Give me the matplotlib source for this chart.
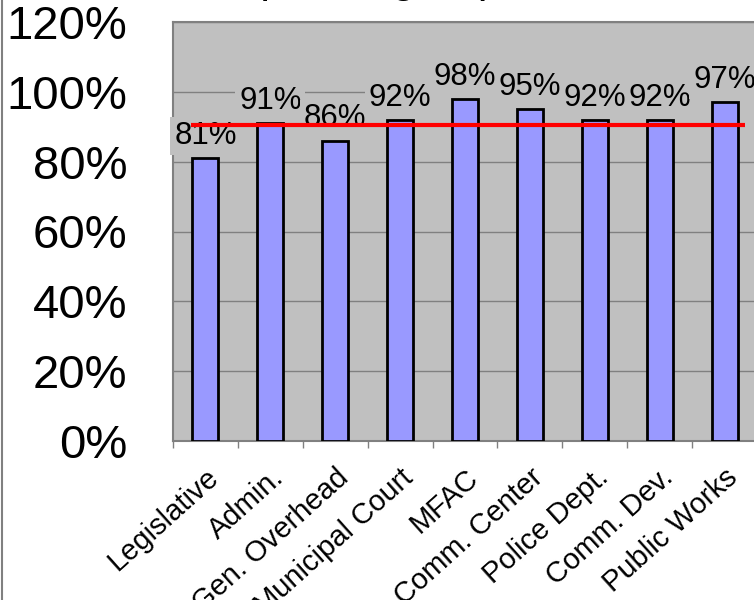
import matplotlib

matplotlib.use('Agg')

import matplotlib.pyplot as plt
import numpy as np
from matplotlib.lines import Line2D

plt.rcParams.update({
    'font.family': ['Liberation Sans', 'DejaVu Sans'],
    'figure.dpi': 100,
})

departments = ['Legislative', 'Admin.', 'Gen. Overhead', 'Municipal Court', 'MFAC',
               'Comm. Center', 'Police Dept.', 'Comm. Dev.', 'Public Works']
pct_spent = [81, 91, 86, 92, 98, 95, 92, 92, 97]
target_pct = 90.5
y_ticks = [0, 20, 40, 60, 80, 100, 120]

fig = plt.figure(figsize=(7.54, 6.0))
ax = fig.add_axes([173 / 754, 159 / 600, 584 / 754, 419 / 600])
ax.set_facecolor('#C0C0C0')

x = np.arange(len(departments))
ax.bar(x, pct_spent, width=0.4, color='#9999FF', edgecolor='black', linewidth=2, zorder=3)

for xi, v in zip(x, pct_spent):
    ax.annotate(f'{v}%', xy=(xi, v), xytext=(0, 16), textcoords='offset points',
                ha='center', va='center', fontsize=22.5, zorder=4, annotation_clip=False,
                bbox=dict(boxstyle='square,pad=0.12', facecolor='#C0C0C0', edgecolor='none'))

# target line across all departments
ax.plot([-0.22, 8.32], [target_pct, target_pct], color='#FF0000', linewidth=3, zorder=5,
        solid_capstyle='butt')

ax.set_xlim(-0.5, len(departments) - 0.5)
ax.set_ylim(0, 120)
ax.set_yticks(y_ticks)
ax.set_yticklabels([f'{t}%' for t in y_ticks], fontsize=34)
ax.tick_params(axis='y', length=0, pad=33)
ax.yaxis.grid(True, color='#808080', linewidth=1)
ax.set_axisbelow(True)

ax.set_xticks(x)
ax.set_xticklabels(departments, rotation=42, ha='right', rotation_mode='anchor', fontsize=21)
ax.set_xticks(np.arange(len(departments) + 1) - 0.5, minor=True)
ax.tick_params(axis='x', which='major', length=0, pad=16)
ax.tick_params(axis='x', which='minor', length=5, color='#808080', width=1)

for side in ['left', 'top', 'bottom']:
    ax.spines[side].set_color('#808080')
    ax.spines[side].set_linewidth(1.5)
ax.spines['right'].set_visible(False)

# title sits mostly above the visible frame
fig.text(227 / 754, 1.0135, 'Operating Expenditures', fontsize=31, ha='left', va='baseline')

fig.add_artist(Line2D([1.5 / 754, 1.5 / 754], [0, 1], color='#808080', linewidth=1.5))

fig.savefig('out.png', dpi=100)
